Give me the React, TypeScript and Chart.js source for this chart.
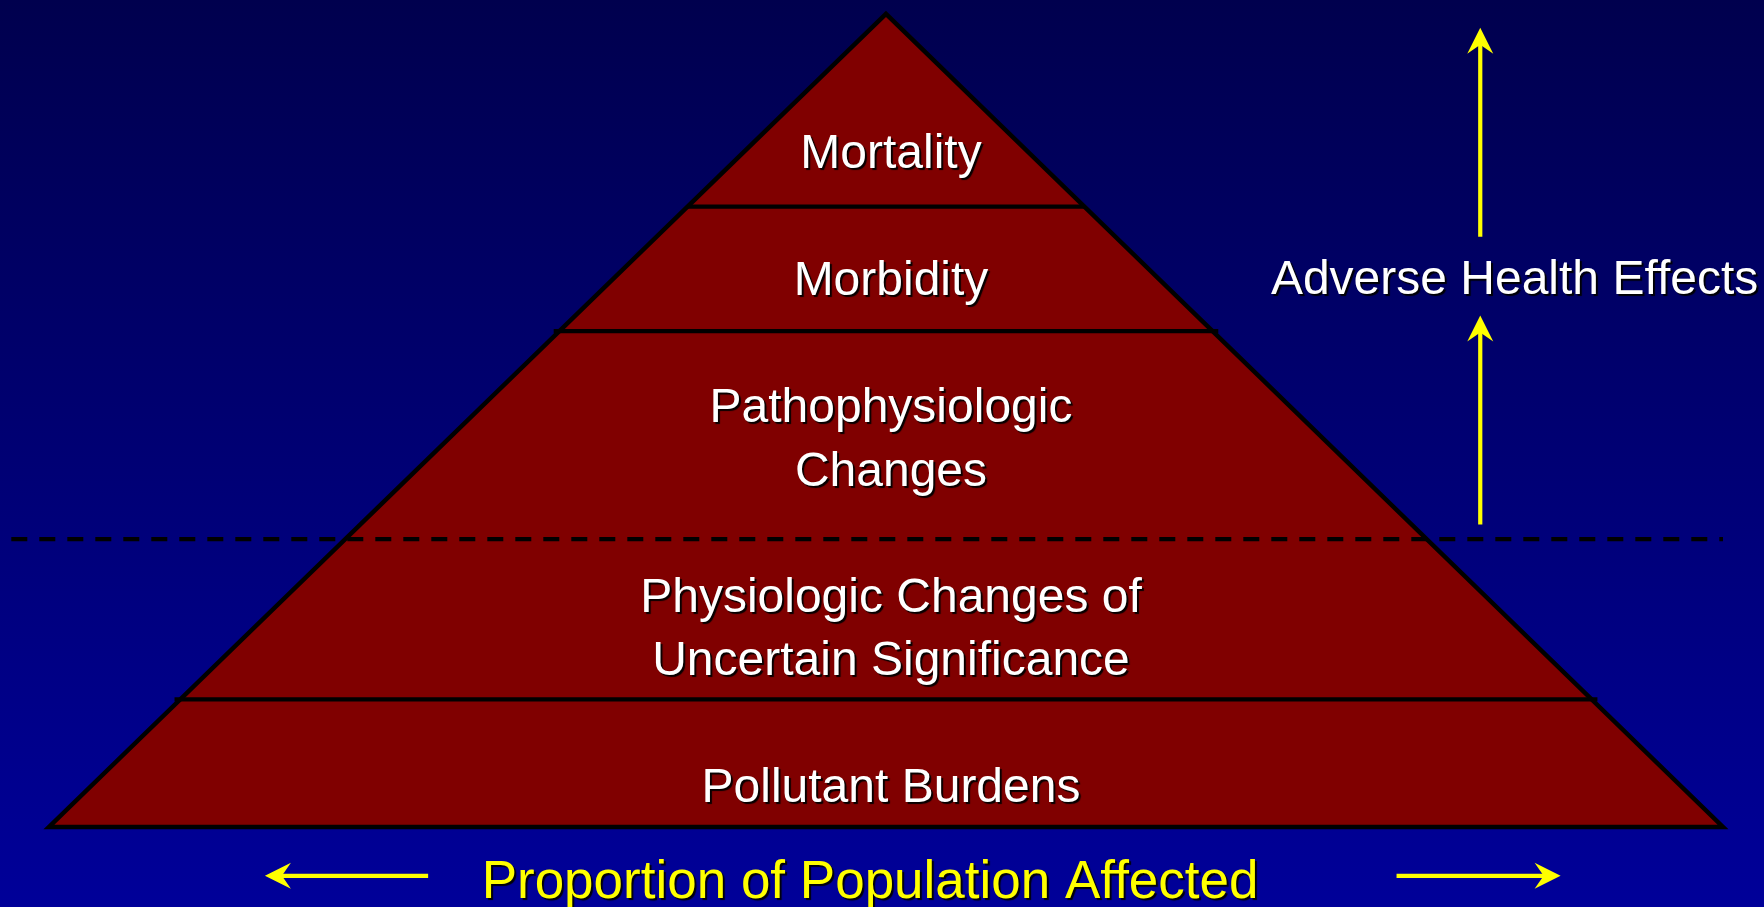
import React, { useEffect, useRef } from "react";
import { Chart, registerables } from "chart.js";

Chart.register(...registerables);

// ---- data ----
// layers from the base (0) to the apex (100)
const layerLabels: string[][] = [
  ["Pollutant Burdens"],
  ["Physiologic Changes of", "Uncertain Significance"],
  ["Pathophysiologic", "Changes"],
  ["Morbidity"],
  ["Mortality"],
];
// heights of the boundaries between layers (0 = base, 100 = apex)
const layerBoundaries = [15.7, 35.4, 61.0, 76.3];
// which boundary is the dashed threshold line
const thresholdIndex = 1;
const thresholdSpan = [-104.5, 100.0];
// vertical centre of each layer's label
const labelHeights = [5.2, 24.7, 48.0, 67.5, 83.2];
const labelX = 0.6;

const pyramidHalfWidth = 100;
const pyramidHeight = 100;

const bottomTitle = "Proportion of Population Affected";
const bottomTitlePos = [-1.9, -6.42];
const sideTitle = "Adverse Health Effects";
const sideTitlePos = [75.1, 67.65];

// arrows: [fromX, fromY, toX(tip), toY(tip)]
const populationArrows = [
  [-54.7, -6.0, -74.2, -6.0],
  [61.0, -6.0, 80.6, -6.0],
];
const healthArrows = [
  [71.0, 37.2, 71.0, 62.9],
  [71.0, 72.6, 71.0, 98.3],
];

const X_RANGE = [-105.85, 104.9];
const Y_RANGE = [-9.84, 101.72];

const FONT = '"Liberation Sans", Arial, Helvetica, sans-serif';

function halfWidthAt(h: number) {
  return pyramidHalfWidth * (1 - h / pyramidHeight);
}

const background = {
  id: "background",
  beforeDraw(chart: any) {
    const { ctx, width, height } = chart;
    const g = ctx.createLinearGradient(0, 0, 0, height);
    g.addColorStop(0, "#00004e");
    g.addColorStop(1, "#000099");
    ctx.save();
    ctx.fillStyle = g;
    ctx.fillRect(0, 0, width, height);
    ctx.restore();
  },
};

function drawLines(
  ctx: CanvasRenderingContext2D,
  lines: string[],
  cx: number,
  cy: number,
  size: number,
  color: string
) {
  const lh = size * 1.32;
  const cap = size * 0.716;
  ctx.font = `${size}px ${FONT}`;
  ctx.textAlign = "center";
  ctx.textBaseline = "alphabetic";
  const first = cy - ((lines.length - 1) * lh) / 2 + cap / 2;
  lines.forEach((t, i) => {
    ctx.save();
    ctx.shadowColor = "rgba(0,0,0,0.95)";
    ctx.shadowOffsetX = 2;
    ctx.shadowOffsetY = 2;
    ctx.shadowBlur = 1;
    ctx.fillStyle = color;
    ctx.fillText(t, cx, first + i * lh);
    ctx.restore();
  });
}

const overlay = {
  id: "overlay",
  afterDatasetsDraw(chart: any) {
    const { ctx } = chart;
    const xs = chart.scales.x;
    const ys = chart.scales.y;
    const X = (v: number) => xs.getPixelForValue(v);
    const Y = (v: number) => ys.getPixelForValue(v);
    ctx.save();
    // arrows
    ctx.strokeStyle = "#ffff00";
    ctx.fillStyle = "#ffff00";
    for (const [x0, y0, x1, y1] of [...populationArrows, ...healthArrows]) {
      const px0 = X(x0), py0 = Y(y0), px1 = X(x1), py1 = Y(y1);
      const len = Math.hypot(px1 - px0, py1 - py0);
      const dx = (px1 - px0) / len, dy = (py1 - py0) / len;
      const nx = -dy, ny = dx;
      const L = 26, W = 13, N = 9;
      ctx.lineWidth = 4.2;
      ctx.lineCap = "butt";
      ctx.beginPath();
      ctx.moveTo(px0, py0);
      ctx.lineTo(px1 - dx * (L - N - 2), py1 - dy * (L - N - 2));
      ctx.stroke();
      ctx.beginPath();
      ctx.moveTo(px1, py1);
      ctx.lineTo(px1 - dx * L + nx * W, py1 - dy * L + ny * W);
      ctx.lineTo(px1 - dx * (L - N), py1 - dy * (L - N));
      ctx.lineTo(px1 - dx * L - nx * W, py1 - dy * L - ny * W);
      ctx.closePath();
      ctx.fill();
    }
    // layer labels
    layerLabels.forEach((lines, i) => {
      drawLines(ctx, lines, X(labelX), Y(labelHeights[i]), 48, "#ffffff");
    });
    drawLines(ctx, [sideTitle], X(sideTitlePos[0]), Y(sideTitlePos[1]), 48, "#ffffff");
    drawLines(ctx, [bottomTitle], X(bottomTitlePos[0]), Y(bottomTitlePos[1]), 53, "#ffff00");
    ctx.restore();
  },
};

function buildDatasets() {
  const ds: any[] = [];
  // pyramid body (filled triangle, outlined)
  ds.push({
    label: "pyramid",
    data: [
      { x: -pyramidHalfWidth, y: 0 },
      { x: 0, y: pyramidHeight },
      { x: pyramidHalfWidth, y: 0 },
      { x: -pyramidHalfWidth, y: 0 },
      { x: 0, y: pyramidHeight },
    ],
    borderColor: "#000000",
    borderWidth: 4.5,
    backgroundColor: "#800000",
    fill: "shape",
    borderJoinStyle: "miter",
    pointRadius: 0,
    tension: 0,
    clip: false,
    order: 2,
  });
  const overshoot = [0.7, 0, 0.7, 0];
  layerBoundaries.forEach((h, i) => {
    const hw = halfWidthAt(h);
    const isThreshold = i === thresholdIndex;
    ds.push({
      label: "boundary" + i,
      data: isThreshold
        ? [
            { x: thresholdSpan[0], y: h },
            { x: thresholdSpan[1], y: h },
          ]
        : [
            { x: -hw - overshoot[i], y: h },
            { x: hw + overshoot[i], y: h },
          ],
      borderColor: "#000000",
      borderWidth: 4.2,
      borderDash: isThreshold ? [16, 12] : [],
      borderCapStyle: "butt",
      fill: false,
      pointRadius: 0,
      clip: false,
      order: 1,
    });
  });
  return ds;
}

export default function App() {
  const ref = useRef<HTMLCanvasElement | null>(null);
  useEffect(() => {
    if (!ref.current) return;
    const chart = new Chart(ref.current, {
      type: "line",
      data: { datasets: buildDatasets() },
      options: {
        animation: false,
        responsive: false,
        maintainAspectRatio: false,
        devicePixelRatio: 1,
        events: [],
        layout: { padding: 0 },
        plugins: {
          legend: { display: false },
          tooltip: { enabled: false },
          title: { display: false },
        },
        scales: {
          x: { type: "linear", min: X_RANGE[0], max: X_RANGE[1], display: false },
          y: { type: "linear", min: Y_RANGE[0], max: Y_RANGE[1], display: false },
        },
      },
      plugins: [background, overlay],
    } as any);
    return () => chart.destroy();
  }, []);
  return (
    <div
      style={{
        position: "fixed",
        left: 0,
        top: 0,
        width: 1764,
        height: 907,
        overflow: "hidden",
        background: "#000080",
      }}
    >
      <canvas ref={ref} width={1764} height={907} style={{ display: "block" }} />
    </div>
  );
}
